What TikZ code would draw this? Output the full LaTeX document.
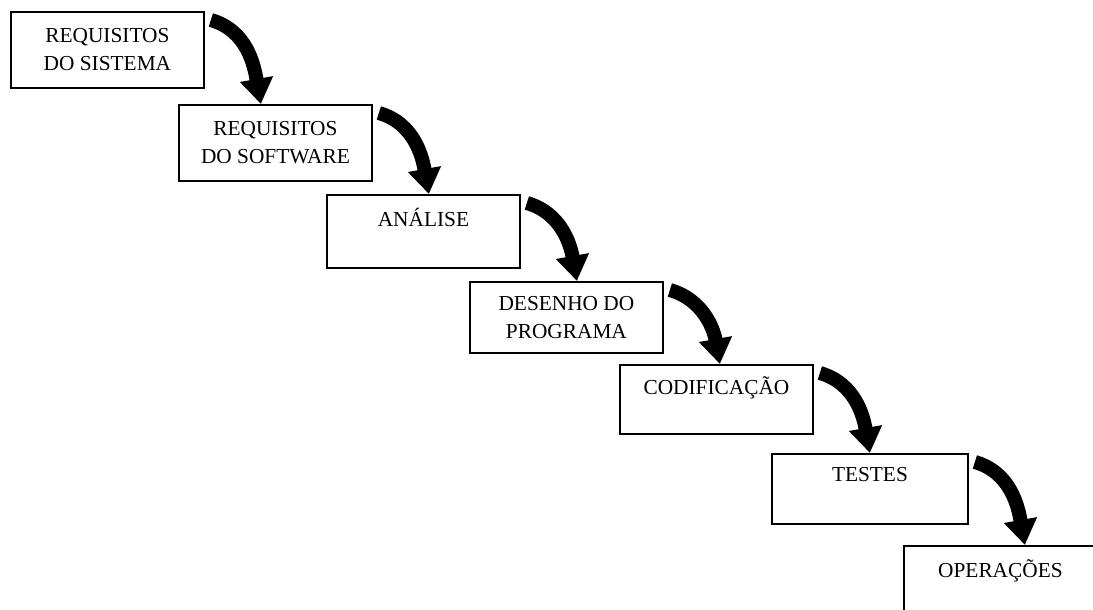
\documentclass[tikz,border=0pt]{standalone}
\usepackage{fontspec}
\setmainfont{Liberation Serif}
\usepackage{tikz}
\usetikzlibrary{
        arrows.meta,
        calc,
        positioning
    }
\tikzset{x=0.75pt,y=0.75pt}
\tikzset{phase/.style={draw,rectangle,line width=1.4pt,anchor=north west,
        minimum width=144.75pt,minimum height=57pt,inner sep=2pt,
        align=center,font=\fontsize{16}{21}\selectfont}}
\tikzset{flow/.style={draw,line width=10.5pt,-{Triangle[width=24pt,length=19pt]},
        out=-16,in=100}}

\begin{document}
\begin{tikzpicture}
                    \path[use as bounding box,clip] (0,0) rectangle (1093,-610);

                        \node[phase] (req sis)  at (10,-11)   {REQUISITOS\\DO SISTEMA};
                        \node[phase] (req soft) at (178,-104) {REQUISITOS\\DO SOFTWARE};
                        \node[phase,minimum height=54.75pt] (analise) at (326,-194) {ANÁLISE\\~};
                        \node[phase,minimum height=53.25pt] (desenho) at (469,-281) {DESENHO DO\\PROGRAMA};
                        \node[phase,minimum height=51.75pt] (codif)   at (619,-364) {CODIFICAÇÃO\\~};
                        \node[phase,minimum height=52.5pt,minimum width=147pt] (testes) at (771,-453) {TESTES\\~};
                        \node[phase,minimum height=54.75pt] (oper)    at (903,-545) {OPERAÇÕES\\~};

                    \path
                            ([shift={(6,-9)}]req sis.north east)  edge[flow] ($(req sis.north east |- req soft.north)+(56,0)$)
                            ([shift={(6,-9)}]req soft.north east) edge[flow] ($(req soft.north east |- analise.north)+(56,0)$)
                            ([shift={(6,-9)}]analise.north east)  edge[flow] ($(analise.north east |- desenho.north)+(56,0)$)
                            ([shift={(6,-9)}]desenho.north east)  edge[flow] ($(desenho.north east |- codif.north)+(56,0)$)
                            ([shift={(6,-9)}]codif.north east)    edge[flow] ($(codif.north east |- testes.north)+(56,0)$)
                            ([shift={(6,-9)}]testes.north east)   edge[flow] ($(testes.north east |- oper.north)+(56,0)$)
                            ;
            \end{tikzpicture}
\end{document}
